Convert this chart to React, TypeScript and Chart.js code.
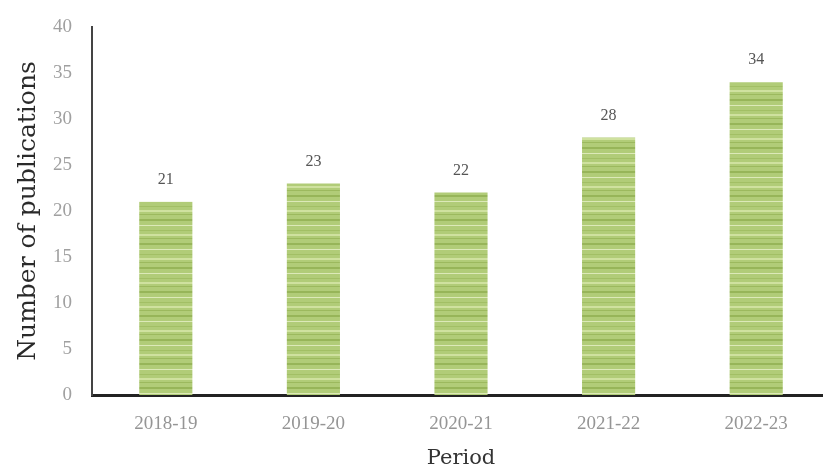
import { useEffect, useRef } from 'react';
import { Chart, registerables } from 'chart.js';

Chart.register(...registerables);

const periods = ['2018-19', '2019-20', '2020-21', '2021-22', '2022-23'];
const publications = [21, 23, 22, 28, 34];
const yTicks = [0, 5, 10, 15, 20, 25, 30, 35, 40];

// horizontal stripes like the original bars
const makeStripes = () => {
  const c = document.createElement('canvas');
  c.width = 8;
  c.height = 24;
  const g = c.getContext('2d')!;
  g.fillStyle = '#b1cc78';
  g.fillRect(0, 0, 8, 24);
  g.fillStyle = '#97b559';
  g.fillRect(0, 3, 8, 2);
  g.fillStyle = '#dce9b8';
  g.fillRect(0, 9, 8, 1);
  g.fillStyle = '#a2bf65';
  g.fillRect(0, 14, 8, 1);
  g.fillStyle = '#cfe19f';
  g.fillRect(0, 18, 8, 2);
  g.fillStyle = '#9cb95e';
  g.fillRect(0, 22, 8, 1);
  return g.createPattern(c, 'repeat');
};

const valueLabels = {
  id: 'valueLabels',
  afterDatasetsDraw(chart: any) {
    const ctx = chart.ctx;
    const meta = chart.getDatasetMeta(0);
    ctx.save();
    ctx.font = '16px "Liberation Serif", serif';
    ctx.fillStyle = '#555555';
    ctx.textAlign = 'center';
    ctx.textBaseline = 'middle';
    meta.data.forEach((bar: any, i: number) => {
      ctx.fillText(String(publications[i]), bar.x, bar.y - 22);
    });
    ctx.restore();
  },
};

const App = () => {
  const canvasRef = useRef<HTMLCanvasElement | null>(null);

  useEffect(() => {
    document.body.style.overflow = 'hidden';
    if (!canvasRef.current) return;
    const ctx = canvasRef.current.getContext('2d');
    if (!ctx) return;

    const chart = new Chart(ctx, {
      type: 'bar',
      data: {
        labels: periods,
        datasets: [
          {
            label: 'Number of publications',
            data: publications,
            backgroundColor: makeStripes() as any,
            borderWidth: 0,
            barPercentage: 0.36,
            categoryPercentage: 1,
          },
        ],
      },
      options: {
        animation: false,
        responsive: false,
        layout: { padding: { top: 27, left: 0, right: 0, bottom: 0 } },
        plugins: { legend: { display: false }, tooltip: { enabled: false } },
        scales: {
          x: {
            grid: { display: false, drawTicks: false },
            border: { display: true, color: '#222222', width: 3 },
            ticks: {
              padding: 18,
              color: '#959595',
              font: { family: '"Liberation Serif", serif', size: 19 },
            },
            title: {
              display: true,
              text: 'Period',
              color: '#333333',
              padding: { top: 0, bottom: 2 },
              font: { family: '"DejaVu Serif", serif', size: 21 },
            },
            afterFit: (s: any) => {
              s.height = 78;
            },
          },
          y: {
            min: 0,
            max: 40,
            afterBuildTicks: (s: any) => {
              s.ticks = yTicks.map((v) => ({ value: v }));
            },
            grid: { display: false, drawTicks: false },
            border: { display: true, color: '#444444', width: 2 },
            ticks: {
              padding: 20,
              color: '#a0a0a0',
              font: { family: '"Liberation Serif", serif', size: 19 },
            },
            title: {
              display: true,
              text: 'Number of publications',
              color: '#2a2a2a',
              padding: { top: 13, bottom: 0 },
              font: { family: '"DejaVu Serif", serif', size: 25 },
            },
            afterFit: (s: any) => {
              s.width = 92;
              s.paddingTop = 0;
              s.paddingBottom = 0;
            },
          },
        },
      },
      plugins: [valueLabels],
    });

    return () => chart.destroy();
  }, []);

  return (
    <div style={{ position: 'fixed', left: 0, top: 0, width: 830, height: 473, background: '#ffffff' }}>
      <canvas ref={canvasRef} width={830} height={473} style={{ width: 830, height: 473 }}></canvas>
    </div>
  );
};

export default App;
